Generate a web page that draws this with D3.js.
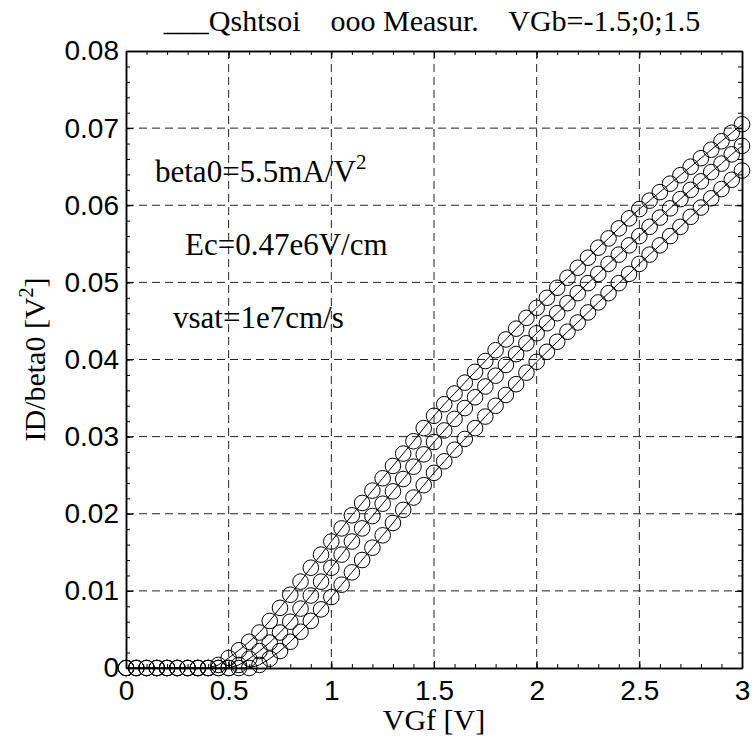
<!DOCTYPE html>
<html>
<head>
<meta charset="utf-8">
<script src="https://cdn.jsdelivr.net/npm/d3@7"></script>
<style>
  body { margin: 0; background: #fff; }
  text { fill: #000; }
</style>
</head>
<body>
<div id="chart"></div>
<script>
var width = 752;
var height = 747;

// gate voltage VGf [V], one point every 0.05 V
var vgf = [0,0.05,0.1,0.15,0.2,0.25,0.3,0.35,0.4,0.45,0.5,0.55,0.6,0.65,0.7,0.75,0.8,0.85,0.9,0.95,
  1,1.05,1.1,1.15,1.2,1.25,1.3,1.35,1.4,1.45,1.5,1.55,1.6,1.65,1.7,1.75,1.8,1.85,1.9,1.95,
  2,2.05,2.1,2.15,2.2,2.25,2.3,2.35,2.4,2.45,2.5,2.55,2.6,2.65,2.7,2.75,2.8,2.85,2.9,2.95,3];

// ID/beta0 [V^2] for VGb = 1.5, 0, -1.5
var idVgbPos = [0,0,0,0,0,0,0,0,0,
  0.0004,0.0013,0.0023,0.0034,0.0046,0.0061,0.0078,0.0095,0.0112,0.0130,
  0.0147,0.0164,0.0181,0.0198,0.0214,0.0230,0.0246,0.0262,0.0278,0.0294,
  0.0311,0.0327,0.0342,0.0356,0.0370,0.0384,0.0398,0.0412,0.0426,0.0440,
  0.0454,0.0467,0.0480,0.0493,0.0506,0.0519,0.0532,0.0545,0.0557,0.0570,
  0.0583,0.0595,0.0606,0.0617,0.0628,0.0639,0.0650,0.0661,0.0672,0.0683,
  0.0694,0.0705];
var idVgbZero = [0,0,0,0,0,0,0,0,0,0,0,
  0.0004,0.0012,0.0022,0.0033,0.0046,0.0060,0.0077,0.0094,0.0112,0.0130,
  0.0147,0.0164,0.0181,0.0197,0.0213,0.0229,0.0245,0.0261,0.0277,0.0293,
  0.0308,0.0323,0.0337,0.0351,0.0365,0.0379,0.0393,0.0407,0.0421,0.0434,
  0.0447,0.0460,0.0473,0.0486,0.0499,0.0511,0.0524,0.0536,0.0548,0.0560,
  0.0572,0.0584,0.0596,0.0608,0.0620,0.0631,0.0643,0.0654,0.0666,0.0677];
var idVgbNeg = [0,0,0,0,0,0,0,0,0,0,0,0,0,
  0.0004,0.0012,0.0022,0.0034,0.0047,0.0061,0.0076,0.0092,
  0.0108,0.0124,0.0140,0.0156,0.0172,0.0188,0.0205,0.0221,0.0237,0.0253,
  0.0268,0.0283,0.0297,0.0311,0.0326,0.0340,0.0354,0.0368,0.0383,0.0397,
  0.0410,0.0423,0.0436,0.0448,0.0461,0.0474,0.0486,0.0499,0.0511,0.0524,
  0.0536,0.0548,0.0560,0.0572,0.0585,0.0597,0.0609,0.0621,0.0633,0.0645];

var xTicks = [0, 0.5, 1, 1.5, 2, 2.5, 3];
var xTickLabels = ["0", "0.5", "1", "1.5", "2", "2.5", "3"];
var yTicks = [0, 0.01, 0.02, 0.03, 0.04, 0.05, 0.06, 0.07, 0.08];
var yTickLabels = ["0", "0.01", "0.02", "0.03", "0.04", "0.05", "0.06", "0.07", "0.08"];

var plotLeft = 126, plotRight = 742, plotTop = 51, plotBottom = 668;

var svg = d3.select("#chart")
    .append("svg")
    .attr("width", width)
    .attr("height", height);

var x = d3.scaleLinear().domain([0, 3]).range([plotLeft, plotRight]);
var y = d3.scaleLinear().domain([0, 0.08]).range([plotBottom, plotTop]);

var serif = "'Liberation Serif', 'Times New Roman', serif";
var sans = "'Liberation Sans', Arial, sans-serif";

// dashed grid
var grid = svg.append("g").attr("stroke", "#222").attr("stroke-width", 1)
    .attr("stroke-dasharray", "8,5").attr("fill", "none");
grid.selectAll(".gx").data(xTicks.slice(1, -1)).enter().append("line")
    .attr("x1", d => x(d)).attr("x2", d => x(d))
    .attr("y1", plotTop).attr("y2", plotBottom);
grid.selectAll(".gy").data(yTicks.slice(1, -1)).enter().append("line")
    .attr("x1", plotLeft).attr("x2", plotRight)
    .attr("y1", d => y(d)).attr("y2", d => y(d));

// minor ticks
var xMinor = d3.range(0, 31).map(i => i / 10);
var yMinor = d3.range(0, 41).map(i => i * 0.002);

function styleAxis(g) {
  g.selectAll("path").attr("stroke", "#000").attr("stroke-width", 1.5);
  g.selectAll("line").attr("stroke", "#000").attr("stroke-width", 1);
  g.selectAll("text").style("font-family", sans).style("font-size", "28px").attr("fill", "#000");
}

svg.append("g").attr("transform", "translate(0," + plotBottom + ")")
  .call(d3.axisBottom(x).tickValues(xMinor).tickSize(-4).tickSizeOuter(0).tickFormat(""))
  .call(styleAxis);
svg.append("g").attr("transform", "translate(0," + plotTop + ")")
  .call(d3.axisTop(x).tickValues(xMinor).tickSize(-4).tickSizeOuter(0).tickFormat(""))
  .call(styleAxis);
svg.append("g").attr("transform", "translate(" + plotLeft + ",0)")
  .call(d3.axisLeft(y).tickValues(yMinor).tickSize(-4).tickSizeOuter(0).tickFormat(""))
  .call(styleAxis);
svg.append("g").attr("transform", "translate(" + plotRight + ",0)")
  .call(d3.axisRight(y).tickValues(yMinor).tickSize(-4).tickSizeOuter(0).tickFormat(""))
  .call(styleAxis);

// major ticks with labels
svg.append("g").attr("transform", "translate(0," + plotBottom + ")")
  .call(d3.axisBottom(x).tickValues(xTicks).tickSize(-7).tickSizeOuter(0).tickPadding(12)
    .tickFormat((d, i) => xTickLabels[i]))
  .call(styleAxis);
svg.append("g").attr("transform", "translate(0," + plotTop + ")")
  .call(d3.axisTop(x).tickValues(xTicks).tickSize(-7).tickSizeOuter(0).tickFormat(""))
  .call(styleAxis);
svg.append("g").attr("transform", "translate(" + plotLeft + ",0)")
  .call(d3.axisLeft(y).tickValues(yTicks).tickSize(-7).tickSizeOuter(0).tickPadding(7)
    .tickFormat((d, i) => yTickLabels[i]))
  .call(styleAxis);
svg.append("g").attr("transform", "translate(" + plotRight + ",0)")
  .call(d3.axisRight(y).tickValues(yTicks).tickSize(-7).tickSizeOuter(0).tickFormat(""))
  .call(styleAxis);

// curves and measured points
var series = [idVgbPos, idVgbZero, idVgbNeg];
var line = d3.line().x((d, i) => x(vgf[i])).y(d => y(d));

svg.append("g").selectAll("path").data(series).enter().append("path")
    .attr("d", line)
    .attr("fill", "none").attr("stroke", "#000").attr("stroke-width", 1);

series.forEach(function(s) {
  svg.append("g").selectAll("circle").data(s).enter().append("circle")
      .attr("cx", (d, i) => x(vgf[i]))
      .attr("cy", d => y(d))
      .attr("r", 7.8)
      .attr("fill", "none").attr("stroke", "#000").attr("stroke-width", 1);
});

// title
svg.append("text")
    .attr("x", 432).attr("y", 31)
    .attr("text-anchor", "middle")
    .style("font-family", serif).style("font-size", "30px").style("white-space", "pre")
    .text("___Qshtsoi    ooo Measur.    VGb=-1.5;0;1.5");

// axis labels
svg.append("text")
    .attr("x", (plotLeft + plotRight) / 2).attr("y", 730)
    .attr("text-anchor", "middle")
    .style("font-family", serif).style("font-size", "30px")
    .text("VGf [V]");

var yl = svg.append("text")
    .attr("transform", "translate(45," + (plotTop + plotBottom) / 2 + ") rotate(-90)")
    .attr("text-anchor", "middle")
    .style("font-family", serif).style("font-size", "30px");
yl.append("tspan").text("ID/beta0 [V");
yl.append("tspan").attr("dy", -12).style("font-size", "20px").text("2");
yl.append("tspan").attr("dy", 12).text("]");

// parameter notes
var b0 = svg.append("text").attr("x", 155).attr("y", 182)
    .style("font-family", serif).style("font-size", "31px");
b0.append("tspan").text("beta0=5.5mA/V");
b0.append("tspan").attr("dy", -13).style("font-size", "21px").text("2");

svg.append("text").attr("x", 185).attr("y", 255)
    .style("font-family", serif).style("font-size", "31px")
    .text("Ec=0.47e6V/cm");
svg.append("text").attr("x", 173).attr("y", 328)
    .style("font-family", serif).style("font-size", "31px")
    .text("vsat=1e7cm/s");
</script>
</body>
</html>
